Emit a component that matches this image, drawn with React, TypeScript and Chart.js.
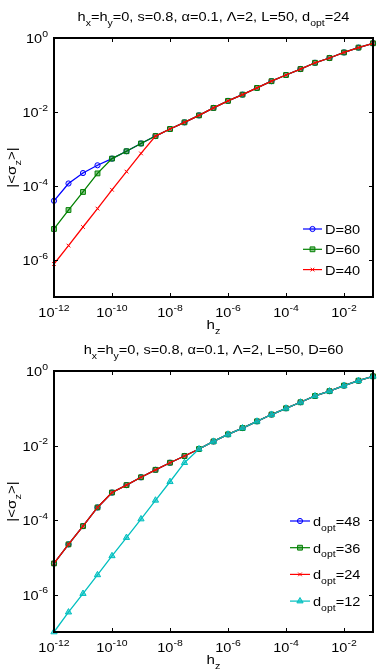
import React, { useEffect, useRef } from 'react';
import { Chart, registerables } from 'chart.js';

Chart.register(...registerables);

// h_z values (half-decade steps)
const hz = [
  1e-12, 3.16e-12, 1e-11, 3.16e-11, 1e-10, 3.16e-10, 1e-9, 3.16e-9, 1e-8, 3.16e-8,
  1e-7, 3.16e-7, 1e-6, 3.16e-6, 1e-5, 3.16e-5, 1e-4, 3.16e-4, 1e-3, 3.16e-3,
  1e-2, 3.16e-2, 1e-1,
];

// Top chart: bond dimension D (d_opt = 24)
const sigmaD80 = [
  3.98e-5, 1.17e-4, 2.24e-4, 3.63e-4, 5.5e-4, 8.7e-4, 1.41e-3, 2.24e-3, 3.47e-3, 5.25e-3,
  8.1e-3, 1.29e-2, 2.0e-2, 2.95e-2, 4.47e-2, 6.8e-2, 0.1, 0.145, 0.214, 0.288,
  0.407, 0.55, 0.72,
];
const sigmaD60 = [
  6.9e-6, 2.24e-5, 6.9e-5, 2.19e-4, 5.5e-4, 8.7e-4, 1.41e-3, 2.24e-3, 3.47e-3, 5.25e-3,
  8.1e-3, 1.29e-2, 2.0e-2, 2.95e-2, 4.47e-2, 6.8e-2, 0.1, 0.145, 0.214, 0.288,
  0.407, 0.55, 0.72,
];
const sigmaD40 = [
  7.8e-7, 2.45e-6, 7.8e-6, 2.45e-5, 7.9e-5, 2.45e-4, 7.6e-4, 2.24e-3, 3.47e-3, 5.25e-3,
  8.1e-3, 1.29e-2, 2.0e-2, 2.95e-2, 4.47e-2, 6.8e-2, 0.1, 0.145, 0.214, 0.288,
  0.407, 0.55, 0.72,
];

// Bottom chart: d_opt (D = 60)
const sigmaOpt48 = [
  6.9e-6, 2.24e-5, 6.9e-5, 2.19e-4, 5.5e-4, 8.7e-4, 1.41e-3, 2.24e-3, 3.47e-3, 5.25e-3,
  8.1e-3, 1.29e-2, 2.0e-2, 2.95e-2, 4.47e-2, 6.8e-2, 0.1, 0.145, 0.214, 0.288,
  0.407, 0.55, 0.72,
];
const sigmaOpt36 = [
  6.9e-6, 2.24e-5, 6.9e-5, 2.19e-4, 5.5e-4, 8.7e-4, 1.41e-3, 2.24e-3, 3.47e-3, 5.25e-3,
  8.1e-3, 1.29e-2, 2.0e-2, 2.95e-2, 4.47e-2, 6.8e-2, 0.1, 0.145, 0.214, 0.288,
  0.407, 0.55, 0.72,
];
const sigmaOpt24 = [
  6.9e-6, 2.24e-5, 6.9e-5, 2.19e-4, 5.5e-4, 8.7e-4, 1.41e-3, 2.24e-3, 3.47e-3, 5.25e-3,
  8.1e-3, 1.29e-2, 2.0e-2, 2.95e-2, 4.47e-2, 6.8e-2, 0.1, 0.145, 0.214, 0.288,
  0.407, 0.55, 0.72,
];
const sigmaOpt12 = [
  1.0e-7, 3.4e-7, 1.07e-6, 3.4e-6, 1.1e-5, 3.4e-5, 1.07e-4, 3.4e-4, 1.07e-3, 3.47e-3,
  8.1e-3, 1.29e-2, 2.0e-2, 2.95e-2, 4.47e-2, 6.8e-2, 0.1, 0.145, 0.214, 0.288,
  0.407, 0.55, 0.72,
];

// Axis ticks
const xTicks = [1e-12, 1e-10, 1e-8, 1e-6, 1e-4, 1e-2];
const xTickExp = ['-12', '-10', '-8', '-6', '-4', '-2'];
const yTicks = [1, 1e-2, 1e-4, 1e-6];
const yTickExp = ['0', '-2', '-4', '-6'];

type Seg = { t: string; s?: 'sub' | 'sup' };

const FAM = '"Liberation Sans", Arial, Helvetica, sans-serif';
const SX = 1.12;

function richWidth(ctx: CanvasRenderingContext2D, segs: Seg[], size: number) {
  let w = 0;
  for (const sg of segs) {
    ctx.font = `${sg.s ? size * 0.72 : size}px ${FAM}`;
    w += ctx.measureText(sg.t).width;
  }
  return w;
}

function drawRich(
  ctx: CanvasRenderingContext2D,
  segs: Seg[],
  x: number,
  y: number,
  size: number,
  align: 'left' | 'center' | 'right',
  rotate = false,
) {
  ctx.save();
  ctx.translate(x, y);
  if (rotate) ctx.rotate(-Math.PI / 2);
  ctx.scale(SX, 1);
  const w = richWidth(ctx, segs, size);
  let cx = align === 'center' ? -w / 2 : align === 'right' ? -w : 0;
  ctx.textAlign = 'left';
  ctx.textBaseline = 'alphabetic';
  ctx.fillStyle = '#000';
  for (const sg of segs) {
    const fs = sg.s ? size * 0.72 : size;
    ctx.font = `${fs}px ${FAM}`;
    const dy = sg.s === 'sub' ? size * 0.35 : sg.s === 'sup' ? -size * 0.5 : 0;
    ctx.fillText(sg.t, cx, dy);
    cx += ctx.measureText(sg.t).width;
  }
  ctx.restore();
}

function drawMarker(ctx: CanvasRenderingContext2D, style: string, x: number, y: number, r: number, color: string, fill: string) {
  ctx.save();
  ctx.strokeStyle = color;
  ctx.fillStyle = fill;
  ctx.lineWidth = 1;
  ctx.beginPath();
  if (style === 'circle') {
    ctx.arc(x, y, r, 0, Math.PI * 2);
    ctx.fill();
    ctx.stroke();
  } else if (style === 'rect') {
    const s = r * Math.SQRT1_2;
    ctx.rect(x - s, y - s, 2 * s, 2 * s);
    ctx.fill();
    ctx.stroke();
  } else if (style === 'crossRot') {
    const s = r * Math.SQRT1_2;
    ctx.moveTo(x - s, y - s);
    ctx.lineTo(x + s, y + s);
    ctx.moveTo(x + s, y - s);
    ctx.lineTo(x - s, y + s);
    ctx.stroke();
  } else if (style === 'triangle') {
    ctx.moveTo(x, y - r);
    ctx.lineTo(x + r * 0.866, y + r * 0.5);
    ctx.lineTo(x - r * 0.866, y + r * 0.5);
    ctx.closePath();
    ctx.fill();
    ctx.stroke();
  }
  ctx.restore();
}

type SeriesDef = {
  label: Seg[];
  values: number[];
  color: string;
  fill: string;
  style: string;
  radius: number;
  order: number;
};

type PanelDef = {
  height: number;
  pad: { top: number; bottom: number; left: number; right: number };
  title: Seg[];
  series: SeriesDef[];
  legend: { x: number; y: number; dy: number; len: number; size: number };
};

const BLUE = '#0000ff';
const GREEN = '#008000';
const RED = '#ff0000';
const CYAN = '#00bfbf';

const topPanel: PanelDef = {
  height: 336,
  pad: { top: 38, bottom: 39, left: 54, right: 3 },
  title: [
    { t: 'h' }, { t: 'x', s: 'sub' }, { t: '=h' }, { t: 'y', s: 'sub' },
    { t: '=0, s=0.8, α=0.1, Λ=2, L=50, d' }, { t: 'opt', s: 'sub' }, { t: '=24' },
  ],
  series: [
    { label: [{ t: 'D=80' }], values: sigmaD80, color: BLUE, fill: 'rgba(0,0,255,0.15)', style: 'circle', radius: 2.6, order: 3 },
    { label: [{ t: 'D=60' }], values: sigmaD60, color: GREEN, fill: 'rgba(0,128,0,0.45)', style: 'rect', radius: 3.4, order: 2 },
    { label: [{ t: 'D=40' }], values: sigmaD40, color: RED, fill: RED, style: 'crossRot', radius: 2.6, order: 1 },
  ],
  legend: { x: 303, y: 229, dy: 20.3, len: 19, size: 13 },
};

const bottomPanel: PanelDef = {
  height: 336,
  pad: { top: 35, bottom: 40, left: 54, right: 3 },
  title: [
    { t: 'h' }, { t: 'x', s: 'sub' }, { t: '=h' }, { t: 'y', s: 'sub' },
    { t: '=0, s=0.8, α=0.1, Λ=2, L=50, D=60' },
  ],
  series: [
    { label: [{ t: 'd' }, { t: 'opt', s: 'sub' }, { t: '=48' }], values: sigmaOpt48, color: BLUE, fill: 'rgba(0,0,255,0.15)', style: 'circle', radius: 2.6, order: 4 },
    { label: [{ t: 'd' }, { t: 'opt', s: 'sub' }, { t: '=36' }], values: sigmaOpt36, color: GREEN, fill: 'rgba(0,128,0,0.45)', style: 'rect', radius: 3.4, order: 3 },
    { label: [{ t: 'd' }, { t: 'opt', s: 'sub' }, { t: '=24' }], values: sigmaOpt24, color: RED, fill: RED, style: 'crossRot', radius: 2.6, order: 2 },
    { label: [{ t: 'd' }, { t: 'opt', s: 'sub' }, { t: '=12' }], values: sigmaOpt12, color: CYAN, fill: 'rgba(0,191,191,0.6)', style: 'triangle', radius: 3.6, order: 1 },
  ],
  legend: { x: 290, y: 185, dy: 26.7, len: 20, size: 13 },
};

function Panel({ def }: { def: PanelDef }) {
  const ref = useRef<HTMLCanvasElement | null>(null);
  useEffect(() => {
    const canvas = ref.current;
    if (!canvas) return;
    const decor = {
      id: 'decor',
      afterDraw(chart: any) {
        const ctx: CanvasRenderingContext2D = chart.ctx;
        const a = chart.chartArea;
        const xs = chart.scales.x;
        const ys = chart.scales.y;
        ctx.save();
        // box
        ctx.strokeStyle = '#000';
        ctx.lineWidth = 2;
        ctx.strokeRect(a.left, a.top, a.right - a.left, a.bottom - a.top);
        // ticks
        ctx.lineWidth = 1;
        ctx.beginPath();
        xTicks.forEach((v) => {
          const px = Math.round(xs.getPixelForValue(v)) + 0.5;
          ctx.moveTo(px, a.bottom);
          ctx.lineTo(px, a.bottom - 4);
          ctx.moveTo(px, a.top);
          ctx.lineTo(px, a.top + 4);
        });
        yTicks.forEach((v) => {
          const py = Math.round(ys.getPixelForValue(v)) + 0.5;
          ctx.moveTo(a.left, py);
          ctx.lineTo(a.left + 4, py);
          ctx.moveTo(a.right, py);
          ctx.lineTo(a.right - 4, py);
        });
        ctx.stroke();
        // tick labels
        xTicks.forEach((v, i) => {
          const px = xs.getPixelForValue(v);
          drawRich(ctx, [{ t: '10' }, { t: xTickExp[i], s: 'sup' }], px, a.bottom + 20, 13, 'center');
        });
        yTicks.forEach((v, i) => {
          const py = ys.getPixelForValue(v);
          drawRich(ctx, [{ t: '10' }, { t: yTickExp[i], s: 'sup' }], a.left - 6, py + 5, 13, 'right');
        });
        // axis titles
        const cxm = (a.left + a.right) / 2;
        drawRich(ctx, [{ t: 'h' }, { t: 'z', s: 'sub' }], cxm, a.bottom + 32, 13.5, 'center');
        drawRich(ctx, [{ t: '|<σ' }, { t: 'z', s: 'sub' }, { t: '>|' }], 16, (a.top + a.bottom) / 2, 13.5, 'center', true);
        // title
        drawRich(ctx, def.title, cxm, a.top - 17, 13, 'center');
        // legend
        const lg = def.legend;
        def.series.forEach((s, i) => {
          const y = lg.y + i * lg.dy;
          ctx.save();
          ctx.strokeStyle = s.color;
          ctx.lineWidth = 1.2;
          ctx.beginPath();
          ctx.moveTo(lg.x, y);
          ctx.lineTo(lg.x + lg.len, y);
          ctx.stroke();
          ctx.restore();
          drawMarker(ctx, s.style, lg.x + lg.len / 2, y, s.radius, s.color, s.fill);
          drawRich(ctx, s.label, lg.x + lg.len + 3, y + 5, lg.size, 'left');
        });
        ctx.restore();
      },
    };

    const chart = new Chart(canvas, {
      type: 'line',
      data: {
        datasets: def.series.map((s) => ({
          label: s.label.map((g) => g.t).join(''),
          data: hz.map((x, i) => ({ x, y: s.values[i] })),
          borderColor: s.color,
          backgroundColor: s.fill,
          borderWidth: 1.3,
          pointStyle: s.style as any,
          pointRadius: s.radius,
          pointBorderWidth: 1,
          pointBorderColor: s.color,
          pointBackgroundColor: s.fill,
          tension: 0,
          order: s.order,
          clip: false as any,
        })),
      },
      options: {
        animation: false,
        responsive: false,
        events: [],
        layout: { padding: def.pad },
        plugins: { legend: { display: false }, tooltip: { enabled: false }, title: { display: false } },
        scales: {
          x: { type: 'logarithmic', min: 1e-12, max: 1e-1, display: false },
          y: { type: 'logarithmic', min: 1e-7, max: 1, display: false },
        },
      },
      plugins: [decor],
    });
    return () => chart.destroy();
  }, [def]);
  return (
    <div style={{ width: 378, height: def.height }}>
      <canvas ref={ref} width={378} height={def.height} style={{ display: 'block' }} />
    </div>
  );
}

export default function App() {
  useEffect(() => {
    document.body.style.margin = '0';
    document.body.style.background = '#fff';
  }, []);
  return (
    <div style={{ width: 378, height: 672, background: '#fff' }}>
      <Panel def={topPanel} />
      <Panel def={bottomPanel} />
    </div>
  );
}
